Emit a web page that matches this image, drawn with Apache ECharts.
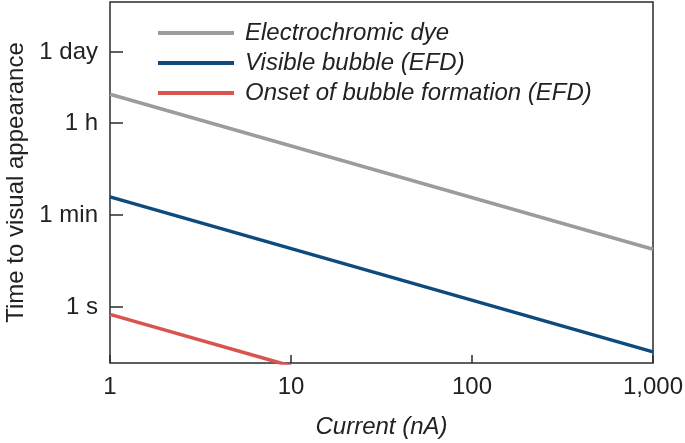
<!DOCTYPE html>
<html>
<head>
<meta charset="utf-8">
<script src="https://cdn.jsdelivr.net/npm/echarts@6/dist/echarts.min.js"></script>
<style>
  html, body { margin: 0; padding: 0; background: #fff; }
  #chart { width: 685px; height: 443px; }
</style>
</head>
<body>
<div id="chart"></div>
<script>
// current in nA
const currents = [1, 1000];
const currentsOnset = [1, 10];

// time to visual appearance, in seconds
const dyeTimes = [13100, 13.1];
const visibleTimes = [135, 0.135];
const onsetTimes = [0.72, 0.072];

const seriesNames = [
  'Electrochromic dye',
  'Visible bubble (EFD)',
  'Onset of bubble formation (EFD)',
];
const seriesColors = ['#9c9c9c', '#0f4a7d', '#d9534f'];

const yTickValues = [1, 60, 3600, 86400];
const yTickLabels = ['1 s', '1 min', '1 h', '1 day'];
const xTickValues = [1, 10, 100, 1000];
const xTickLabels = ['1', '10', '100', '1,000'];

const font = 'Liberation Sans, Arial, Helvetica, sans-serif';

function pairs(xs, ys) {
  return xs.map((x, i) => [x, ys[i]]);
}

function lookup(values, labels, v) {
  for (let i = 0; i < values.length; i++) {
    if (Math.abs(Math.log10(v) - Math.log10(values[i])) < 0.01) return labels[i];
  }
  return '';
}

const chart = echarts.init(document.getElementById('chart'));

chart.setOption({
  animation: false,
  textStyle: { fontFamily: font },
  grid: {
    left: 110,
    right: 32,
    top: 2,
    bottom: 80,
    outerBoundsMode: 'none',
    show: true,
    borderColor: '#2b2b2b',
    borderWidth: 1.5,
  },
  legend: {
    orient: 'vertical',
    left: 153,
    top: 16,
    itemWidth: 76,
    itemHeight: 4,
    itemGap: 6,
    icon: 'rect',
    textStyle: {
      fontFamily: font,
      fontSize: 24,
      fontStyle: 'italic',
      color: '#222',
      padding: [0, 0, 0, 6],
    },
    data: seriesNames,
  },
  xAxis: {
    type: 'log',
    logBase: 10,
    min: 1,
    max: 1000,
    name: 'Current (nA)',
    nameLocation: 'middle',
    nameGap: 52,
    nameTextStyle: {
      fontFamily: font,
      fontSize: 24,
      fontStyle: 'italic',
      color: '#222',
    },
    axisLine: { show: false },
    axisTick: {
      inside: true,
      length: 8,
      lineStyle: { color: '#2b2b2b', width: 1.5 },
    },
    minorTick: { show: false },
    splitLine: { show: false },
    axisLabel: {
      margin: 12,
      fontSize: 24,
      color: '#222',
      showMinLabel: true,
      showMaxLabel: true,
      formatter: (v) => lookup(xTickValues, xTickLabels, v),
    },
  },
  yAxis: {
    type: 'log',
    logBase: 10,
    min: 0.0824,
    max: 800000,
    name: 'Time to visual appearance',
    nameLocation: 'middle',
    nameGap: 80,
    nameTextStyle: {
      fontFamily: font,
      fontSize: 24,
      color: '#222',
    },
    axisLine: { show: false },
    axisTick: {
      inside: true,
      length: 13,
      customValues: yTickValues,
      lineStyle: { color: '#2b2b2b', width: 1.5 },
    },
    minorTick: { show: false },
    splitLine: { show: false },
    axisLabel: {
      margin: 12,
      fontSize: 24,
      color: '#222',
      customValues: yTickValues,
      formatter: (v) => lookup(yTickValues, yTickLabels, v),
    },
  },
  series: [
    {
      name: seriesNames[0],
      type: 'line',
      data: pairs(currents, dyeTimes),
      showSymbol: false,
      lineStyle: { width: 3.5, color: seriesColors[0] },
      itemStyle: { color: seriesColors[0] },
    },
    {
      name: seriesNames[1],
      type: 'line',
      data: pairs(currents, visibleTimes),
      showSymbol: false,
      lineStyle: { width: 3.5, color: seriesColors[1] },
      itemStyle: { color: seriesColors[1] },
    },
    {
      name: seriesNames[2],
      type: 'line',
      data: pairs(currentsOnset, onsetTimes),
      showSymbol: false,
      clip: true,
      lineStyle: { width: 3.5, color: seriesColors[2] },
      itemStyle: { color: seriesColors[2] },
    },
  ],
});
</script>
</body>
</html>
